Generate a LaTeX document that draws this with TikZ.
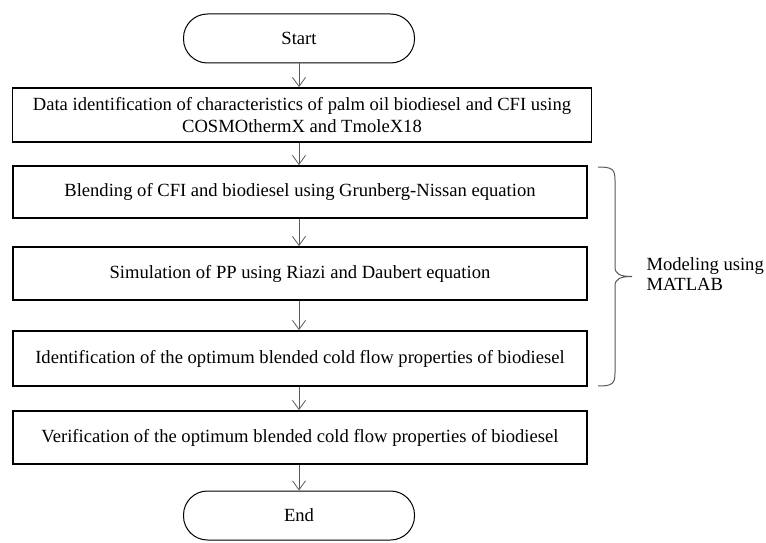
\documentclass[tikz,border=0pt]{standalone}
\usepackage{fontspec}
\setmainfont{Liberation Serif}
\usetikzlibrary{arrows.meta}

\tikzset{
	procbox/.style={draw,line width=1.8pt,minimum width=574pt,minimum height=52pt,align=center,inner sep=0pt},
	termbox/.style={draw,line width=1pt,rounded corners=24pt,minimum width=231pt,minimum height=49pt},
	flowarrow/.style={draw=black!65,line width=0.8pt,-{Straight Barb[length=9pt,width=13pt]}},
	bracket/.style={draw=black!65,line width=1pt}
}

\begin{document}
\begin{tikzpicture}[x=1pt,y=-1pt,font=\fontsize{18.6}{22}\selectfont]
			\useasboundingbox (0,0) rectangle (766,543);

				\node[termbox] (start) at(299,38.5){Start};
				\node[procbox,minimum width=579pt,minimum height=54pt] (dataid) at(302,115){Data identification of characteristics of palm oil biodiesel and CFI using\\COSMOthermX and TmoleX18};
				\node[procbox] (blend) at(300,192){Blending of CFI and biodiesel using Grunberg-Nissan equation};
				\node[procbox,minimum height=53pt] (simpp) at(300,273.5){Simulation of PP using Riazi and Daubert equation};
				\node[procbox,minimum height=55pt] (optid) at(300,358.5){Identification of the optimum blended cold flow properties of biodiesel};
				\node[procbox,minimum height=53pt] (verif) at(300,437.5){Verification of the optimum blended cold flow properties of biodiesel};
				\node[termbox] (stop) at(299,515.5){End};

				\draw[flowarrow] (start) -- (start |- dataid.north);
				\draw[flowarrow] (start |- dataid.south) -- (start |- blend.north);
				\draw[flowarrow] (start |- blend.south) -- (start |- simpp.north);
				\draw[flowarrow] (start |- simpp.south) -- (start |- optid.north);
				\draw[flowarrow] (start |- optid.south) -- (start |- verif.north);
				\draw[flowarrow] (start |- verif.south) -- (stop);

				%bracket round the MATLAB steps
				\coordinate (brtop) at(598,167);
				\coordinate (brbot) at(598,386);
				\coordinate (brtip) at(632,276.5);
				\draw[bracket] (brtop) .. controls (612,167) and (615,169) .. (615,180) -- (615,267)
						.. controls (615,274) and (620,276.5) .. (brtip)
						.. controls (620,276.5) and (615,279) .. (615,286) -- (615,373)
						.. controls (615,384) and (612,386) .. (brbot);

				\node[anchor=west,align=left,font=\fontsize{18.6}{20}\selectfont] (matlab) at(643,274){Modeling using\\MATLAB};

		\end{tikzpicture}
\end{document}
